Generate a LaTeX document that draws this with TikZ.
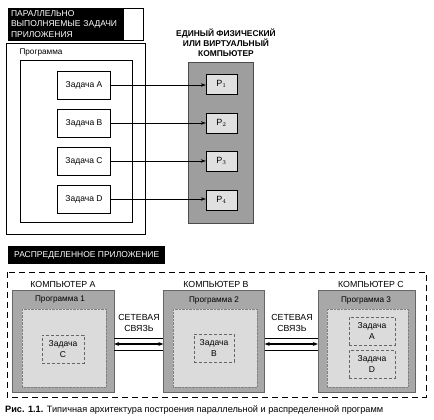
\documentclass[tikz,border=0pt]{standalone}
\usepackage{fontspec}
\setmainfont{Liberation Sans}
\usetikzlibrary{arrows.meta}
\definecolor{dgray}{gray}{0.62}
\definecolor{mgray}{gray}{0.66}
\definecolor{lgray}{gray}{0.86}
\definecolor{pgray}{gray}{0.88}
\begin{document}
\begin{tikzpicture}[x=1pt,y=-1pt,
  blackbox/.style={fill=black,text=white,inner sep=0pt,font=\fontsize{8.5}{10.5}\selectfont},
  taskbox/.style={draw,fill=white,minimum width=53pt,minimum height=28pt,inner sep=0pt,font=\fontsize{8.5}{10}\selectfont},
  pbox/.style={draw,fill=pgray,minimum width=31pt,minimum height=20pt,inner sep=0pt,font=\fontsize{9}{10}\selectfont},
  dtask/.style={draw=black!60,densely dashed,fill=lgray,inner sep=0pt,align=center,font=\fontsize{8.5}{10.5}\selectfont},
  comptitle/.style={font=\fontsize{8.8}{10}\selectfont},
  proglabel/.style={font=\fontsize{8.2}{10}\selectfont},
  conn/.style={-{Stealth[length=5pt,width=3.5pt]},thin},
  netarr/.style={{Stealth[length=5pt,width=4pt]}-{Stealth[length=5pt,width=4pt]},line width=1.4pt}]
\useasboundingbox (0,0) rectangle (434,420);
% ---------- top part ----------
\draw[thin] (8,8) rectangle (143,40);
\node[blackbox,minimum width=116pt,minimum height=32pt,text width=110pt,align=left] (lbl1) at (66,24)
  {ПАРАЛЛЕЛЬНО\\ВЫПОЛНЯЕМЫЕ ЗАДАЧИ\\ПРИЛОЖЕНИЯ};
\draw (6,43) rectangle (145,234);
\node[proglabel,anchor=west] (proglbl) at (16,53) {Программа};
\draw (20,60) rectangle (132,222);
\node[taskbox] (ta) at (84,85) {Задача A};
\node[taskbox] (tb) at (84,123) {Задача B};
\node[taskbox] (tc) at (84,161) {Задача C};
\node[taskbox] (td) at (84,199) {Задача D};
\node[align=center,font=\bfseries\fontsize{8.4}{10}\selectfont] (comp) at (226,43) {ЕДИНЫЙ ФИЗИЧЕСКИЙ\\ИЛИ ВИРТУАЛЬНЫЙ\\КОМПЬЮТЕР};
\filldraw[draw=black!70,fill=dgray] (188,62) rectangle (253,223);
\node[pbox] (p1) at (221.5,84) {P$_1$};
\node[pbox] (p2) at (221.5,123) {P$_2$};
\node[pbox] (p3) at (221.5,161) {P$_3$};
\node[pbox] (p4) at (221.5,200) {P$_4$};
\draw[conn] (ta.east) -- (ta.east -| p1.west);
\draw[conn] (tb.east) -- (tb.east -| p2.west);
\draw[conn] (tc.east) -- (tc.east -| p3.west);
\draw[conn] (td.east) -- (td.east -| p4.west);
% ---------- bottom part ----------
\node[blackbox,minimum width=157pt,minimum height=18pt,anchor=north west] (lbl2) at (8,246) {РАСПРЕДЕЛЕННОЕ ПРИЛОЖЕНИЕ};
\draw[dashed,dash pattern=on 6pt off 4pt] (7,272) rectangle (426,397);
% computer A
\node[draw=black!60,fill=mgray,minimum width=102pt,minimum height=102pt,inner sep=0pt] (ca) at (63,341) {};
\filldraw[draw=black!50,densely dotted,fill=lgray] (22,309) rectangle (106,387);
\node[comptitle] (cat) at (63,284) {КОМПЬЮТЕР A};
\node[proglabel] (pa) at (60,300) {Программа 1};
\node[dtask,minimum width=42pt,minimum height=28pt] (tsc) at (63,349) {Задача\\C};
% computer B
\node[draw=black!60,fill=mgray,minimum width=101pt,minimum height=102pt,inner sep=0pt] (cb) at (214,341) {};
\filldraw[draw=black!50,densely dotted,fill=lgray] (173,309) rectangle (257,387);
\node[comptitle] (cbt) at (216,284) {КОМПЬЮТЕР B};
\node[proglabel] (pb) at (214,300) {Программа 2};
\node[dtask,minimum width=40pt,minimum height=28pt] (tsb) at (214,348) {Задача\\B};
% computer C
\node[draw=black!60,fill=mgray,minimum width=97pt,minimum height=102pt,inner sep=0pt] (cc) at (366.5,341) {};
\filldraw[draw=black!50,densely dotted,fill=lgray] (327,309) rectangle (408,387);
\node[comptitle] (cct) at (371,284) {КОМПЬЮТЕР C};
\node[proglabel] (pc) at (366,300) {Программа 3};
\node[dtask,minimum width=46pt,minimum height=28pt] (tsa) at (372,331) {Задача\\A};
\node[dtask,minimum width=46pt,minimum height=28pt] (tsd) at (372,364) {Задача\\D};
% network links
\draw[thin] (ca.east |- 0,338) -- (cb.west |- 0,338);
\draw[thin] (ca.east |- 0,350) -- (cb.west |- 0,350);
\draw[netarr] (ca.east |- 0,344) -- (cb.west |- 0,344);
\node[align=center,font=\fontsize{8.8}{10.5}\selectfont] (net1) at (139,323) {СЕТЕВАЯ\\СВЯЗЬ};
\draw[thin] (cb.east |- 0,338) -- (cc.west |- 0,338);
\draw[thin] (cb.east |- 0,350) -- (cc.west |- 0,350);
\draw[netarr] (cb.east |- 0,344) -- (cc.west |- 0,344);
\node[align=center,font=\fontsize{8.8}{10.5}\selectfont] (net2) at (292,323) {СЕТЕВАЯ\\СВЯЗЬ};
% caption
\node[anchor=west,inner sep=0pt,font=\fontsize{9.2}{10}\selectfont] (cap) at (5,410) {\textbf{Рис. 1.1.} Типичная архитектура построения параллельной и распределенной программ};
\end{tikzpicture}
\end{document}
